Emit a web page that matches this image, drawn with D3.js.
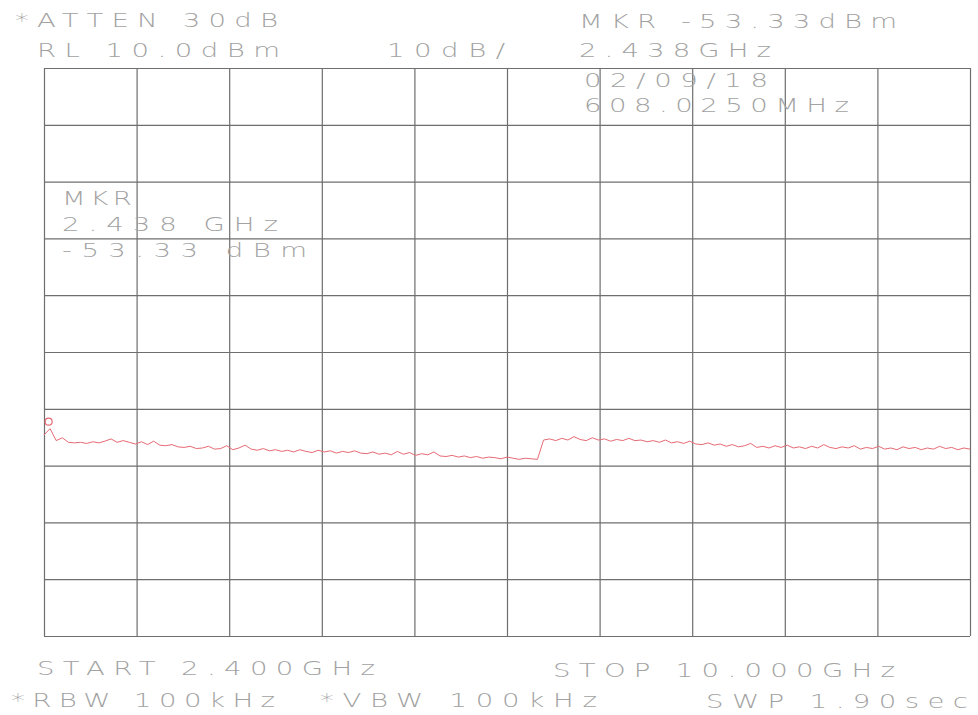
<!DOCTYPE html>
<html>
<head>
<meta charset="utf-8">
<script src="https://cdn.jsdelivr.net/npm/d3@7"></script>
<style>
	body { margin: 0; background: #fff; }
	text { font-family: "DejaVu Sans", sans-serif; font-weight: 200; fill: #a2a2a2; }
</style>
</head>
<body>
<div id="plot"></div>
<script>
// Sweep settings (GHz / dBm)
const startFreq = 2.4;
const stopFreq = 10.0;
const freqStep = 0.05;
const refLevel = 10;
const bottomLevel = -90;

// Graticule divisions
const freqDivs = [2.40, 3.16, 3.92, 4.68, 5.44, 6.20, 6.96, 7.72, 8.48, 9.24, 10.00];
const levelDivs = [10, 0, -10, -20, -30, -40, -50, -60, -70, -80, -90];

// Trace, one reading every 50 MHz from 2.40 GHz
const traceDbm = [
	-54.6, -53.5, -55.6, -55.1, -55.9, -56.0, -55.9, -56.1, -55.8, -56.0,
	-55.7, -55.3, -55.9, -55.6, -55.9, -56.2, -55.8, -56.3, -55.7, -56.4,
	-56.5, -56.3, -56.7, -56.8, -56.6, -57.0, -56.9, -56.6, -57.1, -57.0,
	-56.5, -57.2, -56.9, -56.4, -57.1, -57.3, -57.0, -57.4, -57.2, -57.5,
	-57.3, -57.6, -57.2, -57.5, -57.7, -57.3, -57.6, -57.4, -57.8, -57.5,
	-57.7, -57.4, -57.8, -57.9, -57.6, -58.0, -57.8, -58.1, -57.5, -58.0,
	-57.7, -58.2, -57.9, -58.1, -57.6, -58.3, -58.4, -58.2, -58.5, -58.3,
	-58.6, -58.4, -58.7, -58.5, -58.6, -58.8, -58.5, -58.7, -58.9, -58.7,
	-58.8, -58.9, -55.5, -55.3, -55.6, -55.2, -55.5, -54.9, -55.4, -55.6,
	-55.1, -55.5, -55.3, -55.7, -55.4, -55.6, -55.2, -55.6, -55.5, -55.8,
	-55.6, -55.9, -55.5, -56.0, -55.8, -56.1, -55.7, -56.2, -56.3, -56.0,
	-56.4, -56.2, -56.6, -56.3, -56.7, -56.5, -56.1, -56.8, -56.6, -56.9,
	-56.5, -56.8, -56.4, -56.9, -56.7, -57.0, -56.6, -56.9, -56.3, -56.8,
	-57.0, -56.7, -56.9, -56.5, -57.1, -56.8, -57.0, -56.6, -57.1, -56.9,
	-57.2, -56.7, -57.0, -56.8, -57.2, -56.9, -57.1, -56.6, -57.0, -56.8,
	-57.2, -56.9, -57.1
];

// Marker readout
const markerFreq = 2.438;
const markerDbm = -53.33;

// Annotation lines: [text, x-start, x-end, baseline]
const labels = [
	["*ATTEN 30dB", 15, 278, 27],
	["RL 10.0dBm", 37, 280, 57],
	["10dB/", 387, 505, 57],
	["MKR -53.33dBm", 579, 897, 28],
	["2.438GHz", 579, 771, 57],
	["02/09/18", 584, 768, 87],
	["608.0250MHz", 584, 849, 112],
	["MKR", 62, 132, 205],
	["2.438 GHz", 62, 278, 231],
	["-53.33 dBm", 62, 307, 257],
	["START 2.400GHz", 37, 375, 675],
	["STOP 10.000GHz", 553, 895, 677],
	["*RBW 100kHz", 11, 275, 707],
	["*VBW 100kHz", 320, 597, 707],
	["SWP 1.90sec", 706, 968, 708]
];

const w = 978;
const h = 715;
const padL = 44, padR = 970, padT = 68, padB = 636;
// plotter lettering is wide, so stretch the glyphs sideways
const stretch = 1.45;

const svg = d3.select("#plot")
	.append("svg")
	.attr("width", w)
	.attr("height", h);

const xScale = d3.scaleLinear()
	.domain([startFreq, stopFreq])
	.range([padL, padR]);

const yScale = d3.scaleLinear()
	.domain([bottomLevel, refLevel])
	.range([padB, padT]);

// vertical graticule
svg.append("g")
	.attr("transform", "translate(0," + padB + ")")
	.call(d3.axisBottom(xScale).tickValues(freqDivs).tickSize(-(padB - padT)).tickFormat(""))
	.call(g => g.select(".domain").remove())
	.selectAll("line")
	.attr("stroke", "#6e6e6e")
	.attr("stroke-width", 1.2);

// horizontal graticule
svg.append("g")
	.attr("transform", "translate(" + padL + ",0)")
	.call(d3.axisLeft(yScale).tickValues(levelDivs).tickSize(-(padR - padL)).tickFormat(""))
	.call(g => g.select(".domain").remove())
	.selectAll("line")
	.attr("stroke", "#6e6e6e")
	.attr("stroke-width", 1.2);

// trace
const line = d3.line()
	.x((d, i) => xScale(startFreq + i * freqStep))
	.y(d => yScale(d));

svg.append("path")
	.datum(traceDbm)
	.attr("fill", "none")
	.attr("stroke", "#e66a74")
	.attr("stroke-width", 1)
	.attr("d", line);

// marker symbol sits just above the marked point
svg.append("circle")
	.attr("cx", xScale(markerFreq))
	.attr("cy", yScale(markerDbm) - 6)
	.attr("r", 3.5)
	.attr("fill", "none")
	.attr("stroke", "#e66a74")
	.attr("stroke-width", 1.2);

svg.selectAll(".lbl")
	.data(labels)
	.enter()
	.append("text")
	.attr("class", "lbl")
	.attr("transform", d => "translate(" + d[1] + "," + d[3] + ") scale(" + stretch + ",1)")
	.attr("font-size", 19)
	.attr("textLength", d => (d[2] - d[1]) / stretch)
	.attr("lengthAdjust", "spacing")
	.text(d => d[0]);
</script>
</body>
</html>
